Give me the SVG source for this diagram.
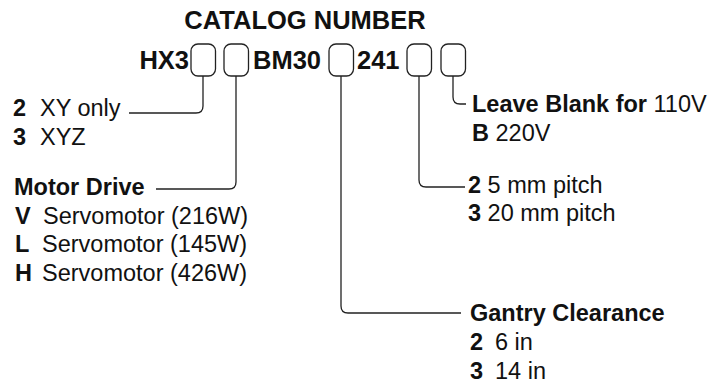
<svg xmlns="http://www.w3.org/2000/svg" width="719" height="385" viewBox="0 0 719 385">
<style>
text{font-family:"Liberation Sans",Arial,Helvetica,sans-serif;fill:#111;font-size:23.5px}
.b{font-weight:bold}
.t{font-weight:bold;font-size:25.5px}
.box{fill:#fff;stroke:#222;stroke-width:1.3}
.ln{fill:none;stroke:#222;stroke-width:1.3}
</style>
<rect width="719" height="385" fill="#fff"/>
<g id="title">
<text class="t" x="305" y="29" text-anchor="middle">CATALOG NUMBER</text>
</g>
<g id="code">
<text class="t" x="189" y="69" text-anchor="end">HX3</text>
<text class="t" x="253" y="69">BM30</text>
<text class="t" x="357" y="69">241</text>
</g>
<g id="boxes">
<rect id="box1" class="box" x="191" y="44" width="24.5" height="32" rx="7"/>
<rect id="box2" class="box" x="224" y="44" width="24.5" height="32" rx="7"/>
<rect id="box3" class="box" x="329" y="44" width="24.5" height="32" rx="7"/>
<rect id="box4" class="box" x="407" y="44" width="24.5" height="32" rx="7"/>
<rect id="box5" class="box" x="441" y="44" width="24.5" height="32" rx="7"/>
</g>
<g id="connectors">
<path class="ln" d="M203,76 V106 Q203,113 196,113 H129"/>
<path class="ln" d="M236,76 V182 Q236,189 229,189 H156"/>
<path class="ln" d="M341,76 V306 Q341,313 348,313 H461"/>
<path class="ln" d="M419,76 V180 Q419,187 426,187 H465"/>
<path class="ln" d="M453,76 V97 Q453,104 460,104 H466"/>
</g>
<g id="axes">
<text x="13" y="116"><tspan class="b">2</tspan></text><text x="40" y="116">XY only</text>
<text x="13" y="145"><tspan class="b">3</tspan></text><text x="40" y="145">XYZ</text>
</g>
<g id="motor">
<text class="b" x="14" y="195">Motor Drive</text>
<text class="b" x="15" y="224">V</text><text x="43" y="224">Servomotor (216W)</text>
<text class="b" x="15" y="252">L</text><text x="42" y="252">Servomotor (145W)</text>
<text class="b" x="15" y="281">H</text><text x="42" y="281">Servomotor (426W)</text>
</g>
<g id="voltage">
<text x="472" y="112"><tspan class="b">Leave Blank for</tspan> 110V</text>
<text x="472" y="141"><tspan class="b">B</tspan> 220V</text>
</g>
<g id="pitch">
<text x="468" y="193"><tspan class="b">2</tspan> 5 mm pitch</text>
<text x="468" y="221"><tspan class="b">3</tspan> 20 mm pitch</text>
</g>
<g id="gantry">
<text class="b" x="470" y="321">Gantry Clearance</text>
<text class="b" x="470" y="350">2</text><text x="495" y="350">6 in</text>
<text class="b" x="470" y="379">3</text><text x="495" y="379">14 in</text>
</g>
</svg>
